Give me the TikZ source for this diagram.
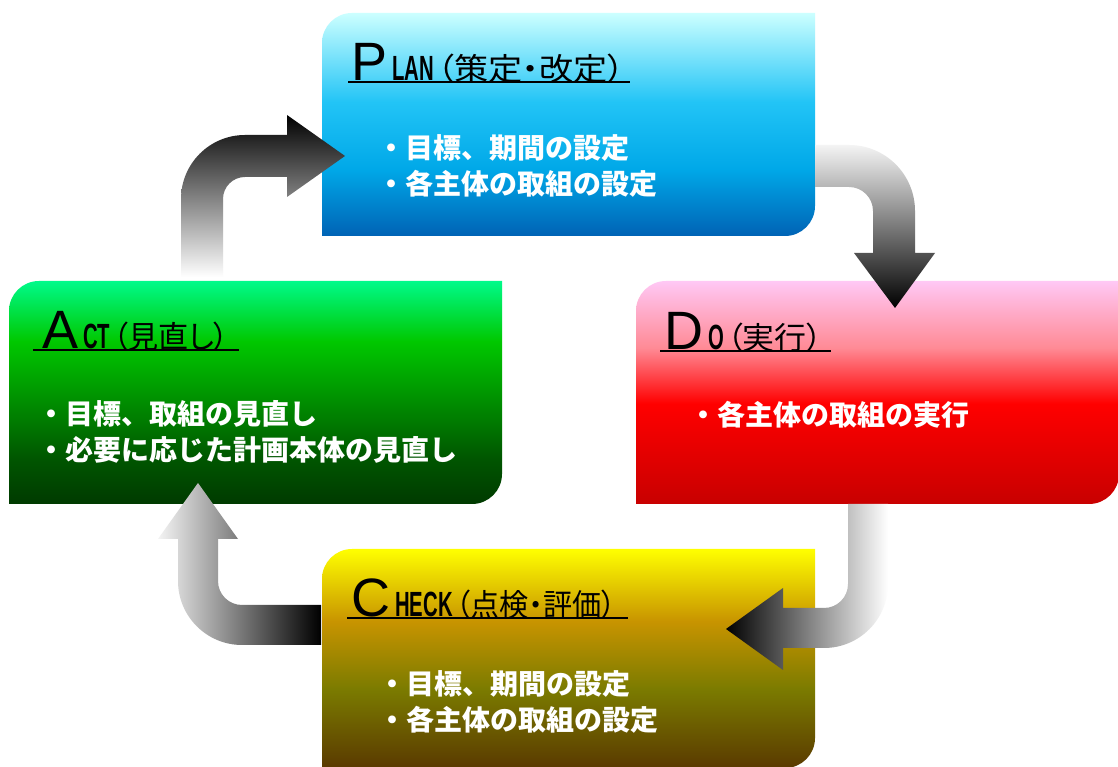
\documentclass[tikz,border=0pt]{standalone}
\usepackage{fontspec}
\usepackage{graphicx}
\newfontfamily\arialf{Liberation Sans}
\newfontfamily\cjkp[RawFeature=+palt]{Noto Sans CJK JP}
\newfontfamily\cjkbody{Noto Sans CJK JP}

\definecolor{planA}{HTML}{CCFFFF}
\definecolor{planB}{HTML}{22C4F6}
\definecolor{planC}{HTML}{00A8E8}
\definecolor{planD}{HTML}{0063B5}
\definecolor{doA}{HTML}{FFC8F5}
\definecolor{doB}{HTML}{FF8A95}
\definecolor{doC}{HTML}{FF0000}
\definecolor{doD}{HTML}{C80000}
\definecolor{chA}{HTML}{FFFF00}
\definecolor{chB}{HTML}{C89400}
\definecolor{chC}{HTML}{7B7B00}
\definecolor{chD}{HTML}{5A3A00}
\definecolor{actA}{HTML}{00FA8A}
\definecolor{actB}{HTML}{00C800}
\definecolor{actC}{HTML}{009000}
\definecolor{actD}{HTML}{005500}
\definecolor{actE}{HTML}{003A00}
\definecolor{arrlight}{HTML}{F4F4F4}

\pgfdeclareverticalshading{planshade}{100bp}{color(0bp)=(planD); color(25bp)=(planD); color(40bp)=(planC); color(55bp)=(planB); color(75bp)=(planA); color(100bp)=(planA)}
\pgfdeclareverticalshading{doshade}{100bp}{color(0bp)=(doD); color(25bp)=(doD); color(47.5bp)=(doC); color(60bp)=(doB); color(75bp)=(doA); color(100bp)=(doA)}
\pgfdeclareverticalshading{checkshade}{100bp}{color(0bp)=(chD); color(25bp)=(chD); color(43bp)=(chC); color(58.5bp)=(chB); color(75bp)=(chA); color(100bp)=(chA)}
\pgfdeclareverticalshading{actshade}{100bp}{color(0bp)=(actE); color(25bp)=(actE); color(35bp)=(actD); color(48.5bp)=(actC); color(61.5bp)=(actB); color(75bp)=(actA); color(100bp)=(actA)}

% #1 shading, #2 x left, #3 y bottom, #4 x right, #5 y top
\newcommand\pdcabox[5]{%
  \path[shade, shading=#1] (#2,#5-30) arc[start angle=180,end angle=90,radius=30pt]
    -- (#4,#5) -- (#4,#3+30) arc[start angle=0,end angle=-90,radius=30pt]
    -- (#2,#3) -- cycle;}

\newcommand\pdcatitle[4]{{\arialf\fontsize{54}{54}\selectfont #1}\hspace{5pt}%
  \scalebox{0.58}[1]{\arialf\bfseries\fontsize{35}{35}\selectfont #2}\hspace{3pt}%
  \scalebox{#4}[1]{\cjkp\fontsize{31}{31}\selectfont #3}}

\tikzset{
  ttl/.style={anchor=base west, inner sep=0pt, text=black},
  uline/.style={line width=2pt, black},
  bodytxt/.style={anchor=base west, inner sep=0pt, text=white, align=left,
    font=\cjkbody\bfseries\fontsize{28}{36.5}\selectfont},
}

\begin{document}
\begin{tikzpicture}[x=1pt,y=1pt]
\useasboundingbox (0,0) rectangle (1118,767);
\fill[white] (0,0) rectangle (1118,767);

% boxes
\pdcabox{planshade}{322}{531}{815}{754}
\pdcabox{doshade}{636}{263}{1119}{486}
\pdcabox{checkshade}{322}{-1}{815}{218}
\pdcabox{actshade}{9}{263}{502}{486}

% arrows
% ACT -> PLAN
\path[shade, top color=black, bottom color=white]
  (181,490) -- (181,568) arc[start angle=180,end angle=90,radius=64pt]
  -- (287,632) -- (287,652) -- (345,611) -- (287,570) -- (287,590) -- (245,590)
  arc[start angle=90,end angle=180,radius=22pt] -- (223,490) -- cycle;
% PLAN -> DO
\path[shade, top color=arrlight, bottom color=black]
  (815,622) -- (849,622) arc[start angle=90,end angle=0,radius=66pt]
  -- (915,514) -- (935,514) -- (895,459) -- (854,514) -- (873,514) -- (873,556)
  arc[start angle=0,end angle=90,radius=24pt] -- (815,580) -- cycle;
% DO -> CHECK
\path[shade, left color=black, right color=white]
  (848,263) -- (888,263) -- (888,183) arc[start angle=0,end angle=-90,radius=64pt]
  -- (783,119) -- (783,97) -- (726,138) -- (783,179) -- (783,159) -- (824,159)
  arc[start angle=-90,end angle=0,radius=24pt] -- cycle;
% CHECK -> ACT
\path[shade, left color=arrlight, right color=black]
  (321,162) -- (242,162) arc[start angle=-90,end angle=-180,radius=24pt]
  -- (218,228) -- (238,228) -- (198,284) -- (158,228) -- (178,228) -- (178,186)
  arc[start angle=180,end angle=270,radius=64pt] -- (321,122) -- cycle;

% PLAN
\node[ttl] (planT) at (351,686) {\pdcatitle{P}{LAN}{（策定・改定）}{1.10}};
\draw[uline] ([xshift=-3pt,yshift=-1.5pt]planT.base west) -- ([xshift=5pt,yshift=-1.5pt]planT.base east);
\node[bodytxt] (planB) at (377,572) {・目標、期間の設定\\・各主体の取組の設定};

% DO
\node[ttl] (doT) at (664,417) {\pdcatitle{D}{O}{（実行）}{1.03}};
\draw[uline] ([xshift=-4pt,yshift=-1.5pt]doT.base west) -- ([xshift=8pt,yshift=-1.5pt]doT.base east);
\node[bodytxt] (doB) at (689,341) {・各主体の取組の実行};

% CHECK
\node[ttl] (checkT) at (351,150) {\pdcatitle{C}{HECK}{（点検・評価）}{0.94}};
\draw[uline] ([xshift=-4pt,yshift=-1.5pt]checkT.base west) -- ([xshift=12pt,yshift=-1.5pt]checkT.base east);
\node[bodytxt] (checkB) at (378,36) {・目標、期間の設定\\・各主体の取組の設定};

% ACT
\node[ttl] (actT) at (42,418) {\pdcatitle{A}{CT}{（見直し）}{0.97}};
\draw[uline] ([xshift=-9pt,yshift=-1.5pt]actT.base west) -- ([xshift=10pt,yshift=-1.5pt]actT.base east);
\node[bodytxt] (actB) at (37,306) {・目標、取組の見直し\\・必要に応じた計画本体の見直し};
\end{tikzpicture}
\end{document}
